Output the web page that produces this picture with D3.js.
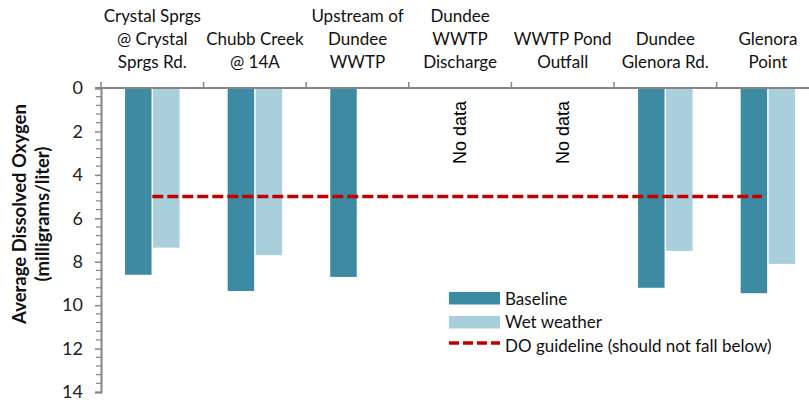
<!DOCTYPE html>
<html><head><meta charset="utf-8">
<script src="https://cdn.jsdelivr.net/npm/d3@7"></script>
<style>body{margin:0;background:#fff}svg{display:block}</style>
</head><body>
<svg id="c" width="809" height="400"></svg>
<script>
const categories = [
  ["Crystal Sprgs","@ Crystal","Sprgs Rd."],
  ["Chubb Creek","@ 14A"],
  ["Upstream of","Dundee","WWTP"],
  ["Dundee","WWTP","Discharge"],
  ["WWTP Pond","Outfall"],
  ["Dundee","Glenora Rd."],
  ["Glenora","Point"]
];
const baseline = [8.6, 9.35, 8.7, null, null, 9.2, 9.45];
const wetWeather = [7.35, 7.7, null, null, null, 7.5, 8.1];
const guideline = 5;
const yTicks = [0,2,4,6,8,10,12,14];
const seriesNames = ["Baseline","Wet weather","DO guideline (should not fall below)"];
const colors = {base:"#3d8ba3", wet:"#a9cfdd", guide:"#c00000", axis:"#868686"};

const svg = d3.select("#c");
const m = {left:101, top:88, right:0, bottom:8};
const W = 809, H = 400;
const x = d3.scaleBand().domain(d3.range(categories.length)).range([m.left, m.left + 102.6*7]);
const y = d3.scaleLinear().domain([0,14]).range([m.top, 392]);
const font = "Lato, 'Open Sans', sans-serif";

// bars
const bw = 26.5, gap = 1.5;
categories.forEach((c,i)=>{
  const cx = x(i) + x.bandwidth()/2;
  if (baseline[i] != null) {
    svg.append("rect").attr("x", cx - gap/2 - bw).attr("y", y(0))
      .attr("width", bw).attr("height", y(baseline[i]) - y(0)).attr("fill", colors.base);
  }
  if (wetWeather[i] != null) {
    svg.append("rect").attr("x", cx + gap/2).attr("y", y(0))
      .attr("width", bw).attr("height", y(wetWeather[i]) - y(0)).attr("fill", colors.wet);
  }
  if (baseline[i] == null && wetWeather[i] == null) {
    svg.append("text").attr("transform", `translate(${cx+6},${y(2)+1}) rotate(-90)`)
      .attr("text-anchor","middle").attr("font-family","'Liberation Sans', Arial, sans-serif")
      .attr("font-size",18).attr("fill","#000").text("No data");
  }
});

// guideline
const gx0 = x(0) + x.bandwidth()/2, gx1 = x(6) + x.bandwidth()/2 - 6;
svg.append("line").attr("x1", gx0).attr("x2", gx1).attr("y1", y(guideline)).attr("y2", y(guideline))
  .attr("stroke", colors.guide).attr("stroke-width", 3.5).attr("stroke-dasharray","11,4");

// y axis
const yAxis = d3.axisLeft(y).tickValues(yTicks).tickSize(6).tickPadding(12);
const yg = svg.append("g").attr("transform", `translate(${m.left},0)`).call(yAxis);
yg.select(".domain").attr("stroke", colors.axis).attr("stroke-width", 2);
yg.selectAll(".tick line").attr("stroke", colors.axis).attr("stroke-width", 1.5);
yg.selectAll(".tick text").attr("font-family", font).attr("font-size", 18).attr("fill","#222");
const minor = d3.range(0, 14.01, 0.4).filter(v => !yTicks.some(t => Math.abs(t - v) < 1e-6));
yg.selectAll(".minor").data(minor).join("line").attr("class","minor")
  .attr("x1",-5).attr("x2",0).attr("y1", d=>y(d)).attr("y2", d=>y(d))
  .attr("stroke", colors.axis).attr("stroke-width",1.2);

// top category axis
svg.append("line").attr("x1", m.left - 6).attr("x2", W).attr("y1", y(0)).attr("y2", y(0))
  .attr("stroke", colors.axis).attr("stroke-width", 2);
d3.range(1, categories.length).forEach(i=>{
  svg.append("line").attr("x1", x(i)).attr("x2", x(i)).attr("y1", y(0)).attr("y2", y(0)-6)
    .attr("stroke", colors.axis).attr("stroke-width", 1.5);
});
svg.append("line").attr("x1", m.left).attr("x2", m.left).attr("y1", y(0)).attr("y2", y(0)-6)
  .attr("stroke", colors.axis).attr("stroke-width", 1.5);

// category labels
categories.forEach((c,i)=>{
  const cx = x(i) + x.bandwidth()/2;
  const n = c.length;
  c.forEach((line,j)=>{
    svg.append("text").attr("x", cx).attr("y", 68 - (n-1-j)*23)
      .attr("text-anchor","middle").attr("font-family", font).attr("font-size", 17)
      .attr("fill","#111").text(line);
  });
});

// y title
const yt = svg.append("text").attr("transform","translate(26,214) rotate(-90)")
  .attr("text-anchor","middle").attr("font-family", font).attr("font-size",18.5).attr("font-weight","bold").attr("fill","#111");
yt.append("tspan").attr("x",0).attr("dy",0).text("Average Dissolved Oxygen");
yt.append("tspan").attr("x",0).attr("dy",23).text("(milligrams/liter)");

// legend
const lg = svg.append("g").attr("transform","translate(449,292)");
lg.append("rect").attr("x",0).attr("y",0).attr("width",51).attr("height",12.5).attr("fill",colors.base);
lg.append("rect").attr("x",0).attr("y",24).attr("width",51).attr("height",12.5).attr("fill",colors.wet);
lg.append("line").attr("x1",0).attr("x2",51).attr("y1",51).attr("y2",51)
  .attr("stroke",colors.guide).attr("stroke-width",3.5).attr("stroke-dasharray","10,4");
seriesNames.forEach((s,i)=>{
  lg.append("text").attr("x",56).attr("y",12.5 + i*23.5).attr("font-family",font).attr("font-size",17)
    .attr("fill","#111").text(s);
});
</script>
</body></html>
